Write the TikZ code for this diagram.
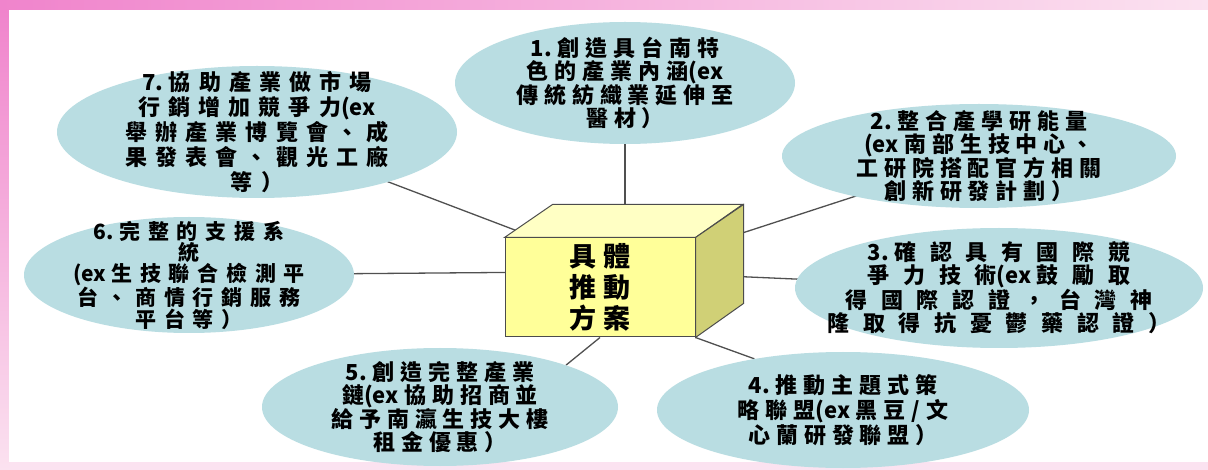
\documentclass[tikz,border=0pt]{standalone}
\usepackage{fontspec}
\usepackage{tikz}
\usetikzlibrary{shapes.geometric,backgrounds}
\newfontfamily\cjk[LetterSpace=27]{Noto Sans CJK TC}
\newfontfamily\cjkmid[LetterSpace=37]{Noto Sans CJK TC}
\newfontfamily\cjkwide[LetterSpace=62]{Noto Sans CJK TC}
\newfontfamily\cjkplain{Noto Sans CJK TC}
\newcommand\lat[1]{{\cjkplain #1}\hspace{0.25em}}
\definecolor{goalfill}{RGB}{185,221,226}
\definecolor{boxfront}{RGB}{255,255,153}
\definecolor{boxtop}{RGB}{255,255,196}
\definecolor{boxside}{RGB}{208,208,118}
\definecolor{linkgray}{RGB}{80,80,80}
\definecolor{framepink}{RGB}{240,132,204}
\definecolor{framelight}{RGB}{251,226,240}
\begin{document}
\begin{tikzpicture}[x=1pt,y=-1pt]
	\tikzset{goal/.style={ellipse,fill=goalfill,inner sep=-30pt,align=center,
		font=\cjk\bfseries\fontsize{22}{23}\selectfont}}
	\tikzset{link/.style={draw=linkgray,line width=1.3pt}}
	%\tikzset{every node/.style={draw=red}}
	\useasboundingbox (0,0) rectangle (1208,470);
	\node[draw=black!70,line width=1pt,fill=boxfront,minimum width=190pt,minimum height=99pt,
		align=center,font=\cjk\bfseries\fontsize{27}{31}\selectfont] (plan) at (600,287.5) {具體\\推動\\方案};
	\fill[boxtop,draw=black!70,line width=1pt] (plan.north west) -- ++(48,-33) -- ++(190,0) -- (plan.north east) -- cycle;
	\fill[boxside,draw=black!70,line width=1pt] (plan.north east) -- ++(48,-33) -- ++(0,99) -- (plan.south east) -- cycle;
	\node[goal,minimum width=340pt,minimum height=122pt] (g1) at (625,83) {\lat{1.}創造具台南特\\色的產業內涵\lat{(ex}\\傳統紡織業延伸至\\醫材）};
	\node[goal,minimum width=394pt,minimum height=104pt] (g2) at (979,156) {\lat{2.}整合產學研能量\\\lat{(ex}南部生技中心、\\工研院搭配官方相關\\創新研發計劃）};
	\node[goal,minimum width=408pt,minimum height=120pt,font=\cjkwide\bfseries\fontsize{22}{23}\selectfont] (g3) at (999,288) {\lat{3.}確認具有國際競\\爭力技術\lat{(ex}鼓勵取\\得國際認證，台灣神\\隆取得抗憂鬱藥認證）};
	\node[goal,minimum width=372pt,minimum height=116pt,font=\cjk\bfseries\fontsize{22}{25}\selectfont] (g4) at (843,410) {\lat{4.}推動主題式策\\略聯盟\lat{(ex}黑豆/文\\心蘭研發聯盟）};
	\node[goal,minimum width=356pt,minimum height=118pt] (g5) at (440,407) {\lat{5.}創造完整產業\\鏈\lat{(ex}協助招商並\\給予南瀛生技大樓\\租金優惠）};
	\node[goal,minimum width=330pt,minimum height=116pt,font=\cjkmid\bfseries\fontsize{21}{20}\selectfont] (g6) at (189,275) {\lat{6.}完整的支援系\\統\\\lat{(ex}生技聯合檢測平\\台、商情行銷服務\\平台等）};
	\node[goal,minimum width=400pt,minimum height=132pt,font=\cjkmid\bfseries\fontsize{22}{25}\selectfont] (g7) at (257,132) {\lat{7.}協助產業做市場\\行銷增加競爭力\lat{(ex}\\舉辦產業博覽會、成\\果發表會、觀光工廠\\等）};
	\begin{scope}[on background layer]
		\fill[framelight] (0,0) rectangle (1208,470);
		\shade[left color=framepink,right color=framelight] (0,0) rectangle (1208,10);
		\shade[top color=framepink,bottom color=framelight] (0,10) rectangle (9,470);
		\fill[white] (9,10) rectangle (1208,462);
		\foreach \g in {g2,g3,g6,g7}
			\draw[link] (plan.center) ++(24,-16) -- (\g.center);
		\draw[link] (g1.center) -- (g1 |- plan.center);
		\draw[link] (plan.south) -- (g5.north east);
		\draw[link] (plan.south east) -- (g4.150);
	\end{scope}
\end{tikzpicture}
\end{document}
